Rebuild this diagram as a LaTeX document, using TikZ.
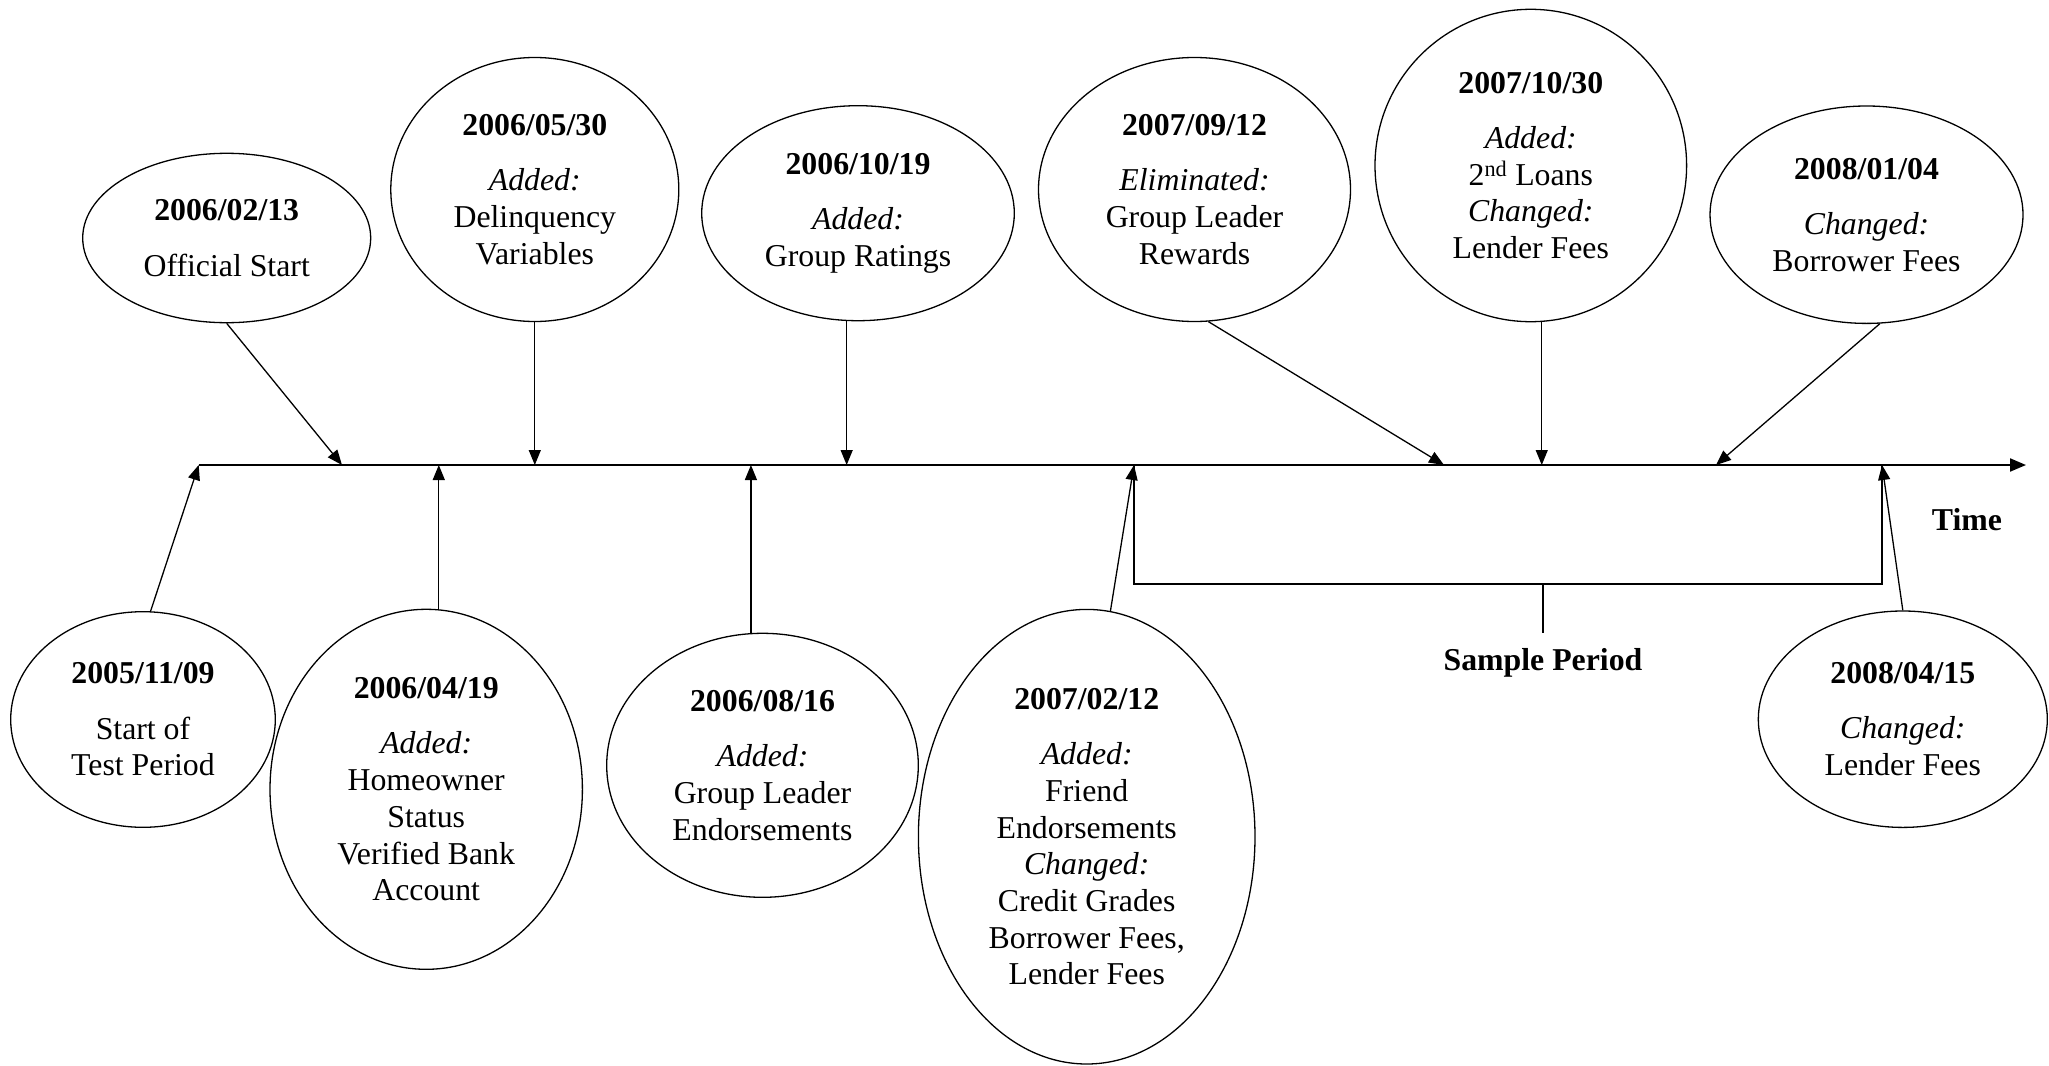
\documentclass[tikz,border=0pt]{standalone}
\usepackage{fontspec}
\setmainfont{Liberation Serif}
\usetikzlibrary{shapes.geometric, arrows.meta}

\begin{document}
\begin{tikzpicture}[x=1pt, y=-1pt,
  event/.style={ellipse, draw, line width=1.3pt, inner sep=0pt, align=center,
    font=\fontsize{31.8}{36.7}\selectfont},
  conn/.style={line width=1.3pt, -{Triangle[length=15pt,width=12pt]}},
  lbl/.style={font=\fontsize{31.8}{36.7}\selectfont\bfseries, inner sep=0pt}]
  \useasboundingbox (0,0) rectangle (2049,1065);
  % Time axis
  \coordinate (tl) at (198.7,465);
  \coordinate (tr) at (2026,465);
  \draw[line width=2pt, -{Triangle[length=16pt,width=13pt]}] (tl) -- (tr);
  \node[lbl, anchor=base] (time) at (1967,530) {Time};
  \coordinate (t0213) at (342,465);
  \coordinate (t0912) at (1444,465);
  \coordinate (t0104) at (1716,465);
  \coordinate (t0212) at (1134,465);
  \coordinate (t0415) at (1882,465);
  % Above the axis
  \node[event, minimum width=288pt, minimum height=169.4pt] (e0213) at (226.7,238)
    {\textbf{2006/02/13}\\[18.5pt]Official Start};
  \node[event, minimum width=288pt, minimum height=264pt] (e0530) at (534.8,189.5)
    {\textbf{2006/05/30}\\[18.5pt]\textit{Added:}\\Delinquency\\Variables};
  \node[event, minimum width=312.6pt, minimum height=215pt] (e1019) at (858,213.2)
    {\textbf{2006/10/19}\\[18.5pt]\textit{Added:}\\Group Ratings};
  \node[event, minimum width=312pt, minimum height=264pt] (e0912) at (1194.5,189.5)
    {\textbf{2007/09/12}\\[18.5pt]\textit{Eliminated:}\\Group Leader\\Rewards};
  \node[event, minimum width=311.6pt, minimum height=312.4pt] (e1030) at (1530.8,165.5)
    {\textbf{2007/10/30}\\[18.5pt]\textit{Added:}\\2\textsuperscript{nd} Loans\\\textit{Changed:}\\Lender Fees};
  \node[event, minimum width=313pt, minimum height=217.4pt] (e0104) at (1866.5,214.7)
    {\textbf{2008/01/04}\\[18.5pt]\textit{Changed:}\\Borrower Fees};
  % Below the axis
  \node[event, minimum width=264.6pt, minimum height=215.6pt] (e1109) at (143,719.5)
    {\textbf{2005/11/09}\\[18.5pt]Start of\\Test Period};
  \node[event, minimum width=312.4pt, minimum height=360pt] (e0419) at (426.2,789.3)
    {\textbf{2006/04/19}\\[18.5pt]\textit{Added:}\\Homeowner\\Status\\Verified Bank\\Account};
  \node[event, minimum width=311.6pt, minimum height=264pt] (e0816) at (762.5,765.3)
    {\textbf{2006/08/16}\\[18.5pt]\textit{Added:}\\Group Leader\\Endorsements};
  \node[event, minimum width=336.6pt, minimum height=454.6pt] (e0212) at (1086.7,836.7)
    {\textbf{2007/02/12}\\[18.5pt]\textit{Added:}\\Friend\\Endorsements\\\textit{Changed:}\\Credit Grades\\Borrower Fees,\\Lender Fees};
  \node[event, minimum width=289pt, minimum height=216.4pt] (e0415) at (1902.8,719.2)
    {\textbf{2008/04/15}\\[18.5pt]\textit{Changed:}\\Lender Fees};
  % Arrows onto the axis
  \draw[conn] (e0213.south) -- (t0213);
  \draw[conn] (e0530.south) -- (e0530.south |- tl);
  \draw[conn] (e1019.264) -- (e1019.264 |- tl);
  \draw[conn] (e0912.276) -- (t0912);
  \draw[conn] (e1030.274) -- (e1030.274 |- tl);
  \draw[conn] (e0104.277) -- (t0104);
  \draw[conn] (e1109.86) -- (tl);
  \draw[conn] (e0419.86) -- (e0419.86 |- tl);
  \draw[conn] (e0816.95) -- (e0816.95 |- tl);
  \draw[conn] (e0212.84) -- (t0212);
  \draw[conn] (e0415.north) -- (t0415);
  % Sample period bracket
  \coordinate (sp) at (1543,584);
  \draw[line width=1.5pt] (t0212) |- (sp) -| (t0415);
  \node[lbl, anchor=base, outer sep=15pt] (splabel) at (1543,670) {Sample Period};
  \draw[line width=1.3pt] (sp) -- (splabel.north);
\end{tikzpicture}
\end{document}
